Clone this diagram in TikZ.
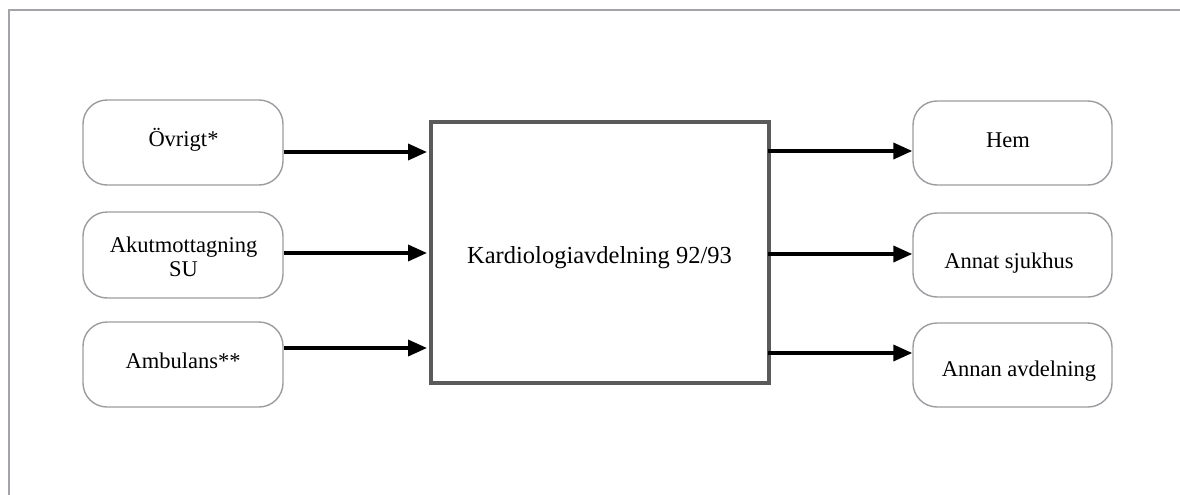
\documentclass[tikz,border=0pt]{standalone}
\usepackage{fontspec}
\setmainfont{Liberation Serif}
\usetikzlibrary{arrows.meta}
\definecolor{framegray}{HTML}{A4A4A8}
\definecolor{boxgray}{HTML}{9C9CA0}
\definecolor{wardgray}{HTML}{5A5A5A}
\tikzset{
  x=1pt, y=-1pt,
  endpoint/.style={draw=boxgray, line width=1.4pt, rounded corners=24pt,
    minimum width=200pt, minimum height=85pt, inner sep=0pt},
  ward/.style={draw=wardgray, line width=4pt, minimum width=338pt,
    minimum height=261pt, inner sep=0pt},
  txt/.style={anchor=base, inner sep=0pt, font=\fontsize{22.5}{24}\selectfont},
  bigtxt/.style={anchor=base, inner sep=0pt, font=\fontsize{24.5}{28}\selectfont},
  flow/.style={line width=3.6pt, -{Triangle[length=19pt,width=16pt]}},
}
\begin{document}
\begin{tikzpicture}
\useasboundingbox (0,0) rectangle (1180,495);
% outer frame (top and left edges)
\draw[framegray, line width=1.5pt] (1180,10) -- (9,10) -- (9,495);

% central ward
\node[ward] (kard) at (600,252.5) {};
\node[bigtxt] (kardt) at (599.5,263) {Kardiologiavdelning 92/93};

% sources
\node[endpoint] (ovr) at (183,142.5) {};
\node[endpoint, minimum height=86pt] (akut) at (183,255) {};
\node[endpoint] (amb) at (183,364.5) {};
\node[txt] (ovrt) at (183.5,146) {Övrigt*};
\node[txt] (akutt) at (183.5,252) {Akutmottagning};
\node[txt] (sut) at (183.5,276) {SU};
\node[txt] (ambt) at (183,368) {Ambulans**};

% destinations
\node[endpoint, minimum width=199pt, minimum height=84pt] (hem) at (1012.5,143) {};
\node[endpoint, minimum width=199pt, minimum height=84pt] (sjuk) at (1012.5,255) {};
\node[endpoint, minimum width=199pt, minimum height=84pt] (avd) at (1012.5,365) {};
\node[txt] (hemt) at (1008,147) {Hem};
\node[txt] (sjukt) at (1009,268) {Annat sjukhus};
\node[txt] (avdt) at (1019,376) {Annan avdelning};

% inflow
\draw[flow] (ovr.east |- 0,152) -- ([xshift=-2pt]kard.west |- 0,152);
\draw[flow] (akut.east |- 0,253) -- ([xshift=-2pt]kard.west |- 0,253);
\draw[flow] (amb.east |- 0,348) -- ([xshift=-2pt]kard.west |- 0,348);

% outflow
\draw[flow] ([xshift=-3pt]kard.east |- 0,151) -- (hem.west |- 0,151);
\draw[flow] ([xshift=-3pt]kard.east |- 0,254) -- (sjuk.west |- 0,254);
\draw[flow] ([xshift=-3pt]kard.east |- 0,353) -- (avd.west |- 0,353);
\end{tikzpicture}
\end{document}
